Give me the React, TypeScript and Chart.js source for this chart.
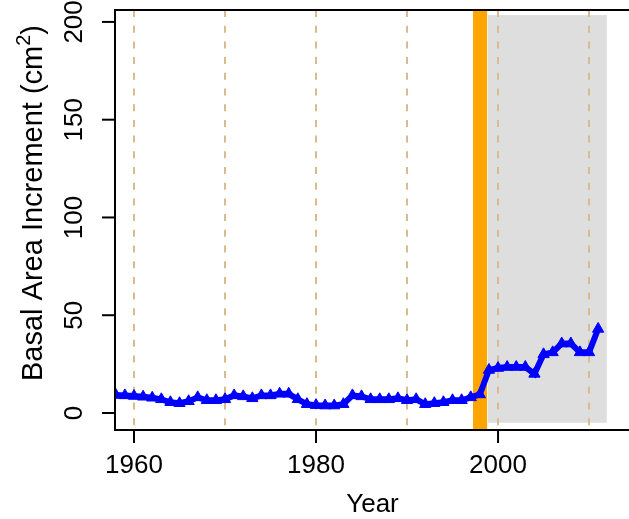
import React, { useEffect, useRef } from "react";
import { Chart, registerables } from "chart.js";

Chart.register(...registerables);

const years = [
  1958, 1959, 1960, 1961, 1962, 1963, 1964, 1965, 1966, 1967,
  1968, 1969, 1970, 1971, 1972, 1973, 1974, 1975, 1976, 1977,
  1978, 1979, 1980, 1981, 1982, 1983, 1984, 1985, 1986, 1987,
  1988, 1989, 1990, 1991, 1992, 1993, 1994, 1995, 1996, 1997,
  1998, 1999, 2000, 2001, 2002, 2003, 2004, 2005, 2006, 2007,
  2008, 2009, 2010, 2011,
];
const bai = [
  9.2, 9, 8.7, 8.3, 7.8, 7, 5.5, 5, 6, 8,
  6.5, 6.5, 7, 9, 8.5, 7.5, 9, 9, 9.8, 9.8,
  7, 4.5, 4, 3.8, 3.8, 4.5, 9, 8.5, 7, 7,
  7, 7.5, 6.5, 7, 4.5, 5, 5.5, 6.5, 6.5, 8,
  9.5, 22, 23, 23.5, 23.5, 23.5, 20, 30, 31, 35.5,
  35.5, 31, 31, 43,
];
const xTicks = [1960, 1980, 2000];
const yTicks = [0, 50, 100, 150, 200];
const decadeLines = [1960, 1970, 1980, 1990, 2000, 2010];
const eventBand = [1997.25, 1998.8];
const periodBandX = [1998.9, 2011.95];
const periodBandY = [-5, 203.5];
const xLabel = "Year";
const yLabelMain = "Basal Area Increment (cm";
const yLabelSup = "2";
const yLabelEnd = ")";

const FONT = "26px 'Liberation Sans', Arial, sans-serif";
const FONT_YLAB = "29px 'Liberation Sans', Arial, sans-serif";
const FONT_SUP = "20px 'Liberation Sans', Arial, sans-serif";

const decorPlugin = {
  id: "decor",
  beforeDatasetsDraw(chart: any) {
    const { ctx, chartArea, scales } = chart;
    const x = scales.x;
    const y = scales.y;
    ctx.save();
    ctx.fillStyle = "#DEDEDE";
    const gx0 = x.getPixelForValue(periodBandX[0]);
    const gx1 = x.getPixelForValue(periodBandX[1]);
    const gy0 = y.getPixelForValue(periodBandY[1]);
    const gy1 = y.getPixelForValue(periodBandY[0]);
    ctx.fillRect(gx0, gy0, gx1 - gx0, gy1 - gy0);
    ctx.fillStyle = "#FFA500";
    const ox0 = x.getPixelForValue(eventBand[0]);
    const ox1 = x.getPixelForValue(eventBand[1]);
    ctx.fillRect(ox0, chartArea.top, ox1 - ox0, chartArea.bottom - chartArea.top);
    ctx.strokeStyle = "#DDBA8C";
    ctx.lineWidth = 2;
    ctx.setLineDash([7, 8.7]);
    for (const d of decadeLines) {
      const px = Math.round(x.getPixelForValue(d));
      ctx.beginPath();
      ctx.moveTo(px, chartArea.top);
      ctx.lineTo(px, chartArea.bottom);
      ctx.stroke();
    }
    ctx.restore();
  },
  afterDraw(chart: any) {
    const { ctx, chartArea, scales } = chart;
    const x = scales.x;
    const y = scales.y;
    ctx.save();
    ctx.strokeStyle = "#000";
    ctx.lineWidth = 2;
    ctx.setLineDash([]);
    ctx.strokeRect(chartArea.left, chartArea.top, chartArea.right - chartArea.left, chartArea.bottom - chartArea.top);
    ctx.fillStyle = "#000";
    ctx.font = FONT;
    ctx.textAlign = "center";
    ctx.textBaseline = "middle";
    for (const t of xTicks) {
      const px = x.getPixelForValue(t);
      ctx.beginPath();
      ctx.moveTo(px, chartArea.bottom);
      ctx.lineTo(px, chartArea.bottom + 13);
      ctx.stroke();
      ctx.fillText(String(t), px, chartArea.bottom + 36);
    }
    ctx.fillText(xLabel, (chartArea.left + chartArea.right) / 2, chartArea.bottom + 75);
    for (const t of yTicks) {
      const py = y.getPixelForValue(t);
      ctx.beginPath();
      ctx.moveTo(chartArea.left, py);
      ctx.lineTo(chartArea.left - 13, py);
      ctx.stroke();
      ctx.save();
      ctx.translate(chartArea.left - 40, py);
      ctx.rotate(-Math.PI / 2);
      ctx.fillText(String(t), 0, 0);
      ctx.restore();
    }
    ctx.save();
    ctx.translate(34, 203);
    ctx.rotate(-Math.PI / 2);
    ctx.textAlign = "left";
    ctx.font = FONT_YLAB;
    const w1 = ctx.measureText(yLabelMain).width;
    const w3 = ctx.measureText(yLabelEnd).width;
    ctx.font = FONT_SUP;
    const w2 = ctx.measureText(yLabelSup).width;
    const total = w1 + w2 + w3;
    let cx = -total / 2;
    ctx.font = FONT_YLAB;
    ctx.fillText(yLabelMain, cx, 0);
    cx += w1;
    ctx.font = FONT_SUP;
    ctx.fillText(yLabelSup, cx, -10);
    cx += w2;
    ctx.font = FONT_YLAB;
    ctx.fillText(yLabelEnd, cx, 0);
    ctx.restore();
    ctx.restore();
  },
};

export default function App() {
  const ref = useRef<HTMLCanvasElement | null>(null);
  useEffect(() => {
    if (!ref.current) return;
    const chart = new Chart(ref.current, {
      type: "line",
      data: {
        datasets: [
          {
            data: years.map((yr, i) => ({ x: yr, y: bai[i] })),
            borderColor: "#0000FF",
            backgroundColor: "#0000FF",
            borderWidth: 6,
            pointStyle: "triangle",
            pointRadius: 6.5,
            pointBorderWidth: 1,
            pointBackgroundColor: "#0000FF",
            pointBorderColor: "#0000FF",
            tension: 0,
            fill: false,
          },
        ],
      },
      options: {
        responsive: false,
        animation: false,
        layout: { padding: { left: 115, top: 10, right: 10, bottom: 89 } },
        plugins: { legend: { display: false }, tooltip: { enabled: false } },
        scales: {
          x: { type: "linear", min: 1957.91, max: 2014.5, display: false },
          y: { type: "linear", min: -8.7, max: 206.1, display: false },
        },
      },
      plugins: [decorPlugin],
    });
    return () => chart.destroy();
  }, []);
  return (
    <div style={{ position: "fixed", left: 0, top: 0, width: 629, height: 519, overflow: "hidden", background: "#fff" }}>
      <canvas ref={ref} width={640} height={519} style={{ display: "block" }} />
    </div>
  );
}
